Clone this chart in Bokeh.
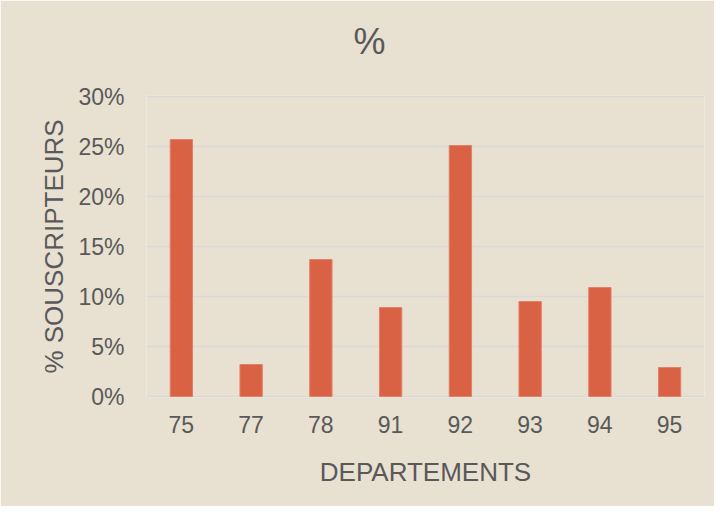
from bokeh.plotting import figure
from bokeh.models import FactorRange, Range1d, FixedTicker, PrintfTickFormatter, Title
from bokeh.embed import file_html
from bokeh.resources import INLINE

departements = ["75", "77", "78", "91", "92", "93", "94", "95"]
pct_souscripteurs = [25.7, 3.2, 13.7, 8.9, 25.1, 9.5, 10.9, 2.9]
y_ticks = [0, 5, 10, 15, 20, 25, 30]
chart_title = "%"

BG = "#E8E1D1"
TXT = "#595959"
GRID = "#D9D9D9"
BAR = "#DA6244"
FONT = "Liberation Sans"

p = figure(
    width=714, height=506,
    x_range=FactorRange(*departements),
    y_range=Range1d(-0.1, 30.1),
    output_backend="svg", toolbar_location=None,
    min_border_left=146, min_border_right=10,
    min_border_top=95, min_border_bottom=109,
    title_location=None,
)
p.background_fill_color = BG
p.border_fill_color = BG
p.outline_line_color = None

# spacer panel (closest to the frame), then the chart title above it
p.add_layout(Title(text=" ", text_font_size="1px", standoff=26), "above")
p.add_layout(Title(text=chart_title, align="left", offset=207, standoff=10,
                   text_font=FONT, text_font_size="36px", text_font_style="normal",
                   text_color=TXT), "above")

p.vbar(x=departements, top=pct_souscripteurs, width=0.32,
       fill_color=BAR, line_color="#E2806A", line_width=1)

# axes
p.yaxis.ticker = FixedTicker(ticks=y_ticks)
p.yaxis.formatter = PrintfTickFormatter(format="%d%%")
for ax in (p.xaxis[0], p.yaxis[0]):
    ax.axis_line_color = None
    ax.major_tick_line_color = None
    ax.minor_tick_line_color = None
    ax.major_label_text_font = FONT
    ax.major_label_text_font_size = "23px"
    ax.major_label_text_color = TXT
    ax.axis_label_text_font = FONT
    ax.axis_label_text_font_size = "26px"
    ax.axis_label_text_font_style = "normal"
    ax.axis_label_text_color = TXT

p.xaxis.axis_label = "DEPARTEMENTS"
p.xaxis.major_label_standoff = 12
p.xaxis.axis_label_standoff = 21
p.yaxis.axis_label = "% SOUSCRIPTEURS"
p.yaxis.major_label_standoff = 16
p.yaxis.axis_label_standoff = 6

p.xgrid.grid_line_color = None
p.ygrid.grid_line_color = GRID
p.ygrid.grid_line_width = 1.5
p.ygrid.ticker = FixedTicker(ticks=y_ticks)

open("out.html", "w").write(file_html(p, INLINE))
